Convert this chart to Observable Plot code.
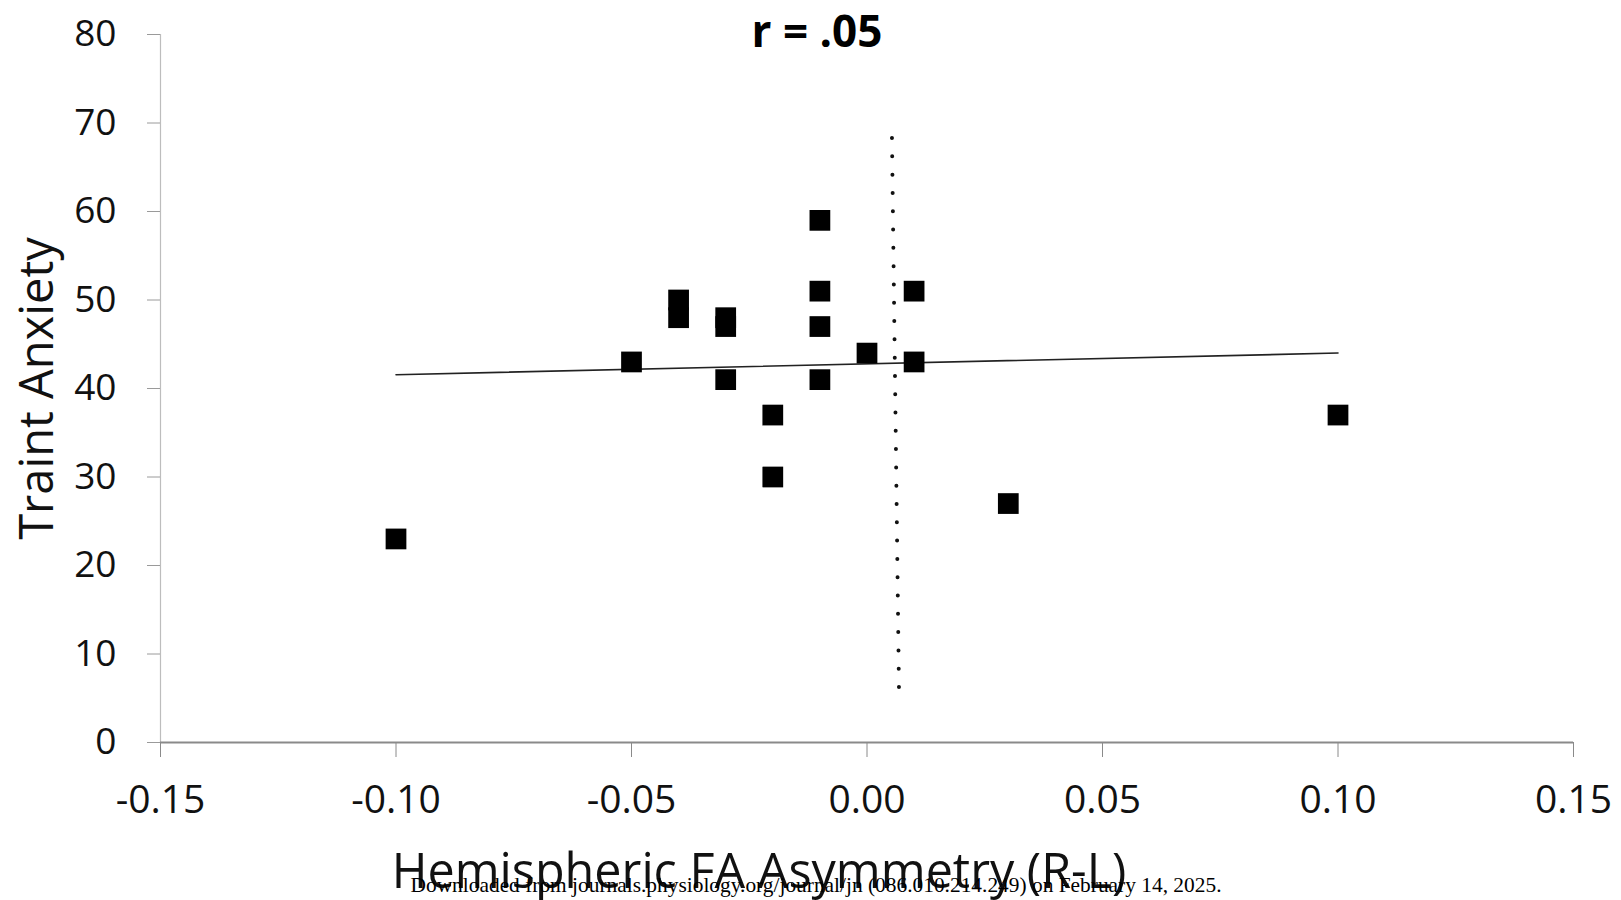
<!DOCTYPE html>
<html>
<head>
<meta charset="utf-8">
<script src="https://cdn.jsdelivr.net/npm/d3@7"></script>
<script src="https://cdn.jsdelivr.net/npm/@observablehq/plot@0.6"></script>
<style>
  html, body { margin: 0; padding: 0; background: #fff; }
  #chart svg { display: block; }
</style>
</head>
<body>
<div id="chart"></div>
<script>
// ---- data ----
const titleText = "r = .05";
const xLabel = "Hemispheric FA Asymmetry (R-L)";
const yLabel = "Traint Anxiety";
const footnote = "Downloaded from journals.physiology.org/journal/jn (086.010.214.249) on February 14, 2025.";

const xTicks = [-0.15, -0.10, -0.05, 0.00, 0.05, 0.10, 0.15];
const yTicks = [0, 10, 20, 30, 40, 50, 60, 70, 80];

// hemispheric FA asymmetry (R-L) and trait anxiety for each participant
const asymmetry = [-0.10, -0.05, -0.04, -0.04, -0.03, -0.03, -0.03, -0.02, -0.02,
                   -0.01, -0.01, -0.01, -0.01, 0.00, 0.01, 0.01, 0.03, 0.10];
const anxiety   = [23, 43, 50, 48, 48, 47, 41, 37, 30,
                   59, 51, 47, 41, 44, 51, 43, 27, 37];

// dotted reference line (near zero asymmetry)
const refX = [0.0053, 0.0068];
const refY = [68.3, 5.6];

const points = asymmetry.map((x, i) => ({x, y: anxiety[i]}));
const refLine = refX.map((x, i) => ({x, y: refY[i]}));

const chart = Plot.plot({
  width: 1621,
  height: 900,
  marginLeft: 160,
  marginRight: 48,
  marginTop: 34,
  marginBottom: 158,
  style: {fontFamily: "'Open Sans', sans-serif", background: "#fff", overflow: "visible"},
  x: {domain: [-0.15, 0.15], axis: null},
  y: {domain: [0, 80], axis: null},
  marks: [
    Plot.ruleX([-0.15], {stroke: "#bdbdbd", strokeWidth: 1.2}),
    Plot.axisY({ticks: yTicks, tickSize: 13, tickPadding: 31, fontSize: 37,
                stroke: "#9a9a9a", fill: "#111", label: null}),
    Plot.axisX({ticks: xTicks, tickFormat: d => d.toFixed(2), tickSize: 15, tickPadding: 28,
                fontSize: 39, stroke: "#8a8a8a", fill: "#111", label: null}),
    Plot.ruleY([0], {stroke: "#8a8a8a", strokeWidth: 2.2}),
    Plot.line(refLine, {x: "x", y: "y", stroke: "#111", strokeWidth: 4,
                        strokeLinecap: "round", strokeDasharray: "0,18.3"}),
    Plot.linearRegressionY(points, {x: "x", y: "y", ci: 0, stroke: "#222", strokeWidth: 1.6}),
    Plot.dot(points, {x: "x", y: "y", symbol: "square", r: 11.7, fill: "#000", stroke: "none"}),
    Plot.text([titleText], {frameAnchor: "top", dx: -50, dy: 12, fontSize: 44,
                            fontWeight: "bold", fill: "#000", lineAnchor: "bottom"}),
    Plot.text([yLabel], {frameAnchor: "left", textAnchor: "middle", rotate: -90, dx: -108,
                         fontSize: 47, fill: "#111", lineAnchor: "bottom"}),
    Plot.text([xLabel], {frameAnchor: "bottom", textAnchor: "middle", dx: -108, dy: 145,
                         fontSize: 48.5, fill: "#111", lineAnchor: "bottom"}),
    Plot.text([footnote], {frameAnchor: "bottom", textAnchor: "middle", dx: -51, dy: 149,
                           fontSize: 21.4,
                           fontFamily: "'Liberation Serif', 'Times New Roman', serif",
                           fill: "#000", lineAnchor: "bottom"})
  ]
});
document.getElementById("chart").appendChild(chart);
</script>
</body>
</html>
